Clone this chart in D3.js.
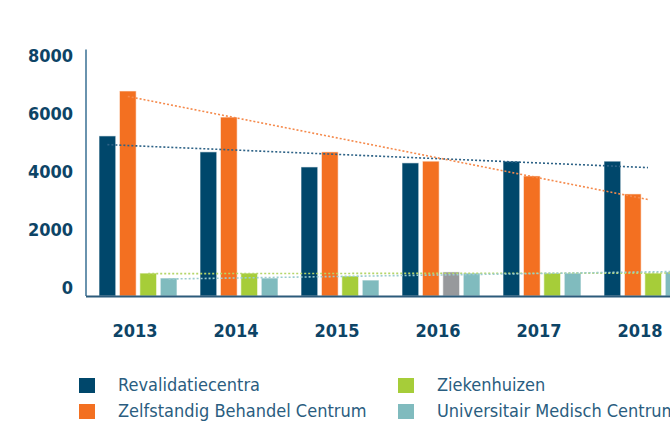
<!DOCTYPE html>
<html>
<head>
<meta charset="utf-8">
<script src="https://cdn.jsdelivr.net/npm/d3@7"></script>
<style>
  body { margin: 0; background: #fff; }
  svg { display: block; }
</style>
</head>
<body>
<div id="chart"></div>
<script>
const width = 670;
const height = 422;

// data
const years = ["2013", "2014", "2015", "2016", "2017", "2018"];
const seriesNames = ["Revalidatiecentra", "Zelfstandig Behandel Centrum", "Ziekenhuizen", "Universitair Medisch Centrum"];
const revalidatie = [5520, 4970, 4450, 4590, 4650, 4650];
const zbc = [7070, 6170, 4970, 4650, 4140, 3520];
const ziekenhuizen = [790, 790, 690, 830, 790, 790];
const umc = [620, 620, 550, 790, 790, 830];
const yTicks = [0, 2000, 4000, 6000, 8000];

const colors = ["#00476b", "#f37021", "#a6cd39", "#80bbbe"];
const greyColor = "#97999c"; // 2016 Ziekenhuizen bar drawn grey
const trendColors = ["#2d6286", "#f58a4c", "#b5d66a", "#9bcbcd"];

const allSeries = [revalidatie, zbc, ziekenhuizen, umc];

const svg = d3.select("#chart")
  .append("svg")
  .attr("width", width)
  .attr("height", height);

const x = d3.scaleBand()
  .domain(years)
  .range([87, 694])
  .paddingInner(0.228)
  .paddingOuter(0.119);

const xInner = d3.scaleBand()
  .domain(d3.range(seriesNames.length))
  .range([0, x.bandwidth()])
  .paddingInner(0.18);

const y = d3.scaleLinear()
  .domain([0, 8000])
  .range([296, 64]);

// y axis line (goes a bit above 8000)
svg.append("line")
  .attr("x1", 86).attr("x2", 86)
  .attr("y1", y(8500)).attr("y2", y(0))
  .attr("stroke", "#6a93ae")
  .attr("stroke-width", 2);

// tick labels
svg.selectAll(".ytick")
  .data(yTicks).enter()
  .append("text")
  .attr("class", "ytick")
  .attr("x", 73)
  .attr("y", d => y(d) - 8)
  .attr("dy", "0.36em")
  .attr("text-anchor", "end")
  .attr("font-family", "'DejaVu Sans Condensed', 'DejaVu Sans', sans-serif")
  .attr("font-weight", "bold")
  .attr("font-size", "18px")
  .attr("fill", "#0d4466")
  .text(d => d);

// bars
const groups = svg.selectAll(".year")
  .data(years).enter()
  .append("g")
  .attr("class", "year")
  .attr("transform", d => `translate(${x(d)},0)`);

groups.selectAll("rect")
  .data((yr, i) => allSeries.map((s, k) => ({ k, i, v: s[i] })))
  .enter()
  .append("rect")
  .attr("x", d => xInner(d.k))
  .attr("width", xInner.bandwidth())
  .attr("y", d => y(d.v))
  .attr("height", d => y(0) - y(d.v))
  .attr("fill", d => (d.k === 2 && years[d.i] === "2016") ? greyColor : colors[d.k])
  .attr("stroke", "#fff")
  .attr("stroke-opacity", 0.6)
  .attr("stroke-width", 1);

// x axis baseline
svg.append("line")
  .attr("x1", 86).attr("x2", width)
  .attr("y1", y(0) + 0.5).attr("y2", y(0) + 0.5)
  .attr("stroke", "#2c5b7b")
  .attr("stroke-width", 2);

// linear trendlines (dotted)
function regression(vals) {
  const n = vals.length;
  const xs = d3.range(1, n + 1);
  const mx = d3.mean(xs), my = d3.mean(vals);
  let num = 0, den = 0;
  xs.forEach((xv, i) => { num += (xv - mx) * (vals[i] - my); den += (xv - mx) * (xv - mx); });
  const slope = num / den;
  return t => my + slope * (t - mx);
}

const firstCenter = x(years[0]) + x.bandwidth() / 2;
const step = x.step();
const trendEnd = [648, 648, 680, 680];

allSeries.forEach((vals, k) => {
  const f = regression(vals);
  const xStart = x(years[0]) + xInner(k) + xInner.bandwidth() / 2;
  const xEnd = trendEnd[k];
  const toCat = px => 1 + (px - firstCenter) / step;
  svg.append("line")
    .attr("x1", xStart).attr("y1", y(f(toCat(xStart))))
    .attr("x2", xEnd).attr("y2", y(f(toCat(xEnd))))
    .attr("stroke", trendColors[k])
    .attr("stroke-width", 1.6)
    .attr("stroke-dasharray", "2,2");
});

// year labels
svg.selectAll(".xlabel")
  .data(years).enter()
  .append("text")
  .attr("class", "xlabel")
  .attr("x", d => x(d) + x.bandwidth() / 2 - 3)
  .attr("y", 331)
  .attr("dy", "0.36em")
  .attr("text-anchor", "middle")
  .attr("font-family", "'DejaVu Sans Condensed', 'DejaVu Sans', sans-serif")
  .attr("font-weight", "bold")
  .attr("font-size", "18px")
  .attr("fill", "#0d4466")
  .text(d => d);

// legend
const legendPos = [[79, 385], [79, 411], [398, 385], [398, 411]];
const legend = svg.selectAll(".legend")
  .data(seriesNames).enter()
  .append("g")
  .attr("class", "legend")
  .attr("transform", (d, i) => `translate(${legendPos[i][0]},${legendPos[i][1]})`);

legend.append("rect")
  .attr("x", 0)
  .attr("y", -7)
  .attr("width", 16)
  .attr("height", 15)
  .attr("fill", (d, i) => colors[i]);

legend.append("text")
  .attr("x", 39)
  .attr("y", 0)
  .attr("dy", "0.36em")
  .attr("font-family", "'Liberation Sans Narrow', 'DejaVu Sans Condensed', sans-serif")
  .attr("font-size", "18px")
  .attr("fill", "#2a5d80")
  .text(d => d);
</script>
</body>
</html>
